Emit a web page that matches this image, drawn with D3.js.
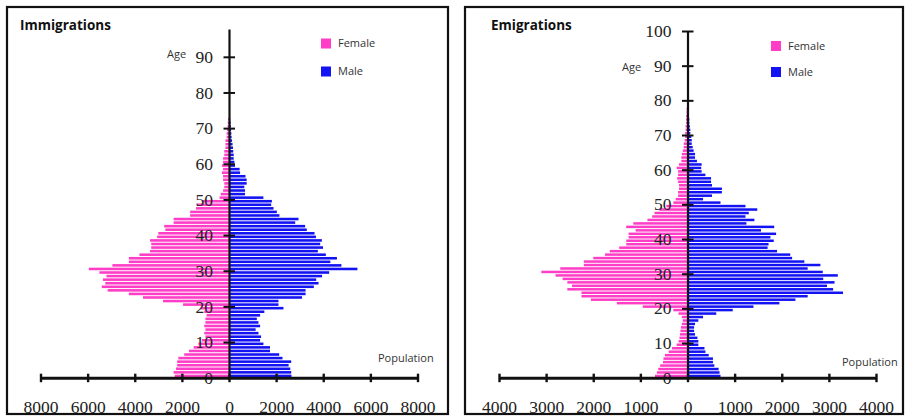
<!DOCTYPE html>
<html>
<head>
<meta charset="utf-8">
<script src="https://cdn.jsdelivr.net/npm/d3@7"></script>
<style>
  html, body { margin: 0; padding: 0; background: #fff; }
  svg { display: block; }
</style>
</head>
<body>
<svg id="chart" width="905" height="416"></svg>
<script>
// Single-year age groups, index = age in years.
const immigrationFemale = [
  2300, 2350, 2250, 2200, 2200, 2150, 1900, 1700, 1500, 1300,
  1150, 1000, 1050, 1000, 1050, 1000, 1000, 950, 1050, 1200,
  1950, 2800, 3650, 4250, 5150, 5400, 5250, 5350, 5200, 5500,
  5950, 4950, 4250, 4250, 3800, 3350, 3300, 3300, 3350, 3050,
  3000, 2700, 2750, 2350, 2350, 1650, 1650, 1400, 1350, 1100,
  400, 350, 250, 200, 200, 250, 250, 300, 250, 300,
  250, 250, 200, 200, 150, 150, 150, 100, 100, 80,
  60, 50, 40
];
const immigrationMale = [
  2650, 2640, 2600, 2530, 2640, 2270, 2130, 1740, 1740, 1460,
  1320, 1360, 1250, 1130, 1320, 1250, 1180, 1320, 1500, 2310,
  2100, 2100, 3100, 3250, 3250, 3600, 3800, 3700, 3950, 4250,
  5450, 4770, 4300, 4580, 4110, 3770, 3990, 3870, 3940, 3690,
  3630, 3300, 3230, 2810, 2950, 2140, 2030, 1890, 1790, 1820,
  1460, 680, 680, 650, 750, 750, 700, 470, 450, 255,
  230, 200, 200, 180, 170, 150, 130, 110, 100, 90,
  80, 70, 50
];
const emigrationFemale = [
  690, 650, 620, 580, 520, 510, 480, 400, 330, 230,
  190, 170, 160, 150, 140, 120, 100, 120, 190, 300,
  950, 1500, 2050, 2250, 2250, 2550, 2450, 2550, 2650, 2800,
  3100, 2700, 2200, 2200, 2000, 1750, 1650, 1450, 1300, 1300,
  1250, 1250, 1100, 1300, 1150, 850, 750, 700, 600, 450,
  300, 250, 200, 200, 180, 180, 200, 220, 200, 200,
  230, 180, 130, 130, 120, 100, 80, 80, 60, 50,
  50, 40, 40, 30, 30, 30, 20, 20
];
const emigrationMale = [
  700, 680, 660, 570, 540, 540, 450, 380, 360, 230,
  230, 210, 160, 140, 140, 160, 230, 330, 610, 960,
  1400, 1950, 2290, 2550, 3300, 3090, 2960, 3120, 2880, 3190,
  2870, 2550, 2820, 2480, 2220, 2180, 1900, 1700, 1720, 1830,
  1760, 1880, 1560, 1840, 1250, 1420, 1230, 1300, 1480, 1230,
  700, 330, 520, 730, 730, 520, 500, 500, 380, 300,
  290, 300, 200, 160, 160, 130, 110, 90, 90, 80,
  60, 60, 50, 40, 40, 30, 30, 30
];

const immigrationPopTicks = [-8000, -6000, -4000, -2000, 0, 2000, 4000, 6000, 8000];
const immigrationAgeTicks = [0, 10, 20, 30, 40, 50, 60, 70, 80, 90];
const emigrationPopTicks = [-4000, -3000, -2000, -1000, 0, 1000, 2000, 3000, 4000];
const emigrationAgeTicks = [0, 10, 20, 30, 40, 50, 60, 70, 80, 90, 100];

const seriesNames = ["Female", "Male"];
const titles = ["Immigrations", "Emigrations"];

const COLOR_F = "#ff3dc6";
const COLOR_M = "#1212f2";
const TICK_FONT = "'Liberation Serif', 'Times New Roman', serif";
const TEXT_FONT = "'Open Sans', 'Noto Sans', sans-serif";

const svg = d3.select("#chart");

const panels = [
  {
    title: titles[0], female: immigrationFemale, male: immigrationMale,
    popTicks: immigrationPopTicks, ageTicks: immigrationAgeTicks,
    frame: { x: 7, y: 7, w: 441, h: 407 },
    xRange: [40.5, 417.5], popMax: 8000,
    yTop: 97.8, yRange: [377.7, 29],
    titlePos: [20, 29.5], agePos: [167, 58],
    legend: { x: 321, yF: 38.5, yM: 66.5, tx: 338 },
    popLabel: [378, 362]
  },
  {
    title: titles[1], female: emigrationFemale, male: emigrationMale,
    popTicks: emigrationPopTicks, ageTicks: emigrationAgeTicks,
    frame: { x: 465, y: 7, w: 438, h: 407 },
    xRange: [499, 876], popMax: 4000,
    yTop: 100, yRange: [377.7, 31],
    titlePos: [491, 29.5], agePos: [622, 70.5],
    legend: { x: 771, yF: 41, yM: 67, tx: 788 },
    popLabel: [842, 365.5]
  }
];

panels.forEach(p => {
  const g = svg.append("g");

  // panel frame
  g.append("rect")
    .attr("x", p.frame.x).attr("y", p.frame.y)
    .attr("width", p.frame.w).attr("height", p.frame.h)
    .attr("fill", "#fff").attr("stroke", "#111").attr("stroke-width", 2.2);

  const x = d3.scaleLinear().domain([-p.popMax, p.popMax]).range(p.xRange);
  const y = d3.scaleLinear().domain([0, p.yTop]).range(p.yRange);
  const x0 = x(0);
  const step = y(0) - y(1);
  const barH = step * 0.72;

  // female bars (left)
  g.append("g").selectAll("rect").data(p.female).join("rect")
    .attr("x", d => x(-d))
    .attr("y", (d, i) => y(i + 1) + (step - barH) / 2)
    .attr("width", d => x0 - x(-d))
    .attr("height", barH)
    .attr("fill", COLOR_F);

  // male bars (right)
  g.append("g").selectAll("rect").data(p.male).join("rect")
    .attr("x", x0)
    .attr("y", (d, i) => y(i + 1) + (step - barH) / 2)
    .attr("width", d => x(d) - x0)
    .attr("height", barH)
    .attr("fill", COLOR_M);

  // age axis: labels on top of the bars, line with crossing ticks
  const yAxis = d3.axisLeft(y).tickValues(p.ageTicks).tickSize(0).tickPadding(16).tickFormat(d3.format("d"));
  const yAxisG = g.append("g").attr("transform", `translate(${x0},0)`).call(yAxis);
  yAxisG.select(".domain").remove();
  yAxisG.selectAll("text")
    .attr("font-family", TICK_FONT).attr("font-size", 17.5).attr("fill", "#222");

  const yLineG = g.append("g").attr("transform", `translate(${x0},0)`)
    .call(d3.axisLeft(y).tickValues(p.ageTicks.filter(v => v > 0)).tickSizeOuter(0).tickFormat(""));
  yLineG.select(".domain").attr("stroke", "#111").attr("stroke-width", 2.2);
  yLineG.selectAll(".tick line").attr("x1", -5.5).attr("x2", 6).attr("stroke", "#111").attr("stroke-width", 2);

  // population axis
  const xAxis = d3.axisBottom(x).tickValues(p.popTicks).tickSizeOuter(0)
    .tickFormat(d => String(Math.abs(d))).tickPadding(17);
  const xAxisG = g.append("g").attr("transform", `translate(0,${y(0)})`).call(xAxis);
  xAxisG.select(".domain").attr("stroke", "#111").attr("stroke-width", 3);
  xAxisG.selectAll(".tick line").attr("y1", -4).attr("y2", 4.5).attr("stroke", "#111").attr("stroke-width", 2.4);
  xAxisG.selectAll("text")
    .attr("font-family", TICK_FONT).attr("font-size", 17.5).attr("fill", "#222");

  // titles and axis captions
  g.append("text").attr("x", p.titlePos[0]).attr("y", p.titlePos[1])
    .attr("font-family", TEXT_FONT).attr("font-weight", 700).attr("font-size", 13.5)
    .attr("fill", "#111").text(p.title);
  g.append("text").attr("x", p.agePos[0]).attr("y", p.agePos[1])
    .attr("font-family", TEXT_FONT).attr("font-size", 11).attr("fill", "#333").text("Age");
  g.append("text").attr("x", p.popLabel[0]).attr("y", p.popLabel[1])
    .attr("font-family", TEXT_FONT).attr("font-size", 11).attr("fill", "#333").text("Population");

  // legend
  const legend = g.append("g");
  [[seriesNames[0], COLOR_F, p.legend.yF], [seriesNames[1], COLOR_M, p.legend.yM]].forEach(([name, color, ly]) => {
    legend.append("rect").attr("x", p.legend.x).attr("y", ly).attr("width", 10).attr("height", 10).attr("fill", color);
    legend.append("text").attr("x", p.legend.tx).attr("y", ly + 8.5)
      .attr("font-family", TEXT_FONT).attr("font-size", 11).attr("fill", "#333").text(name);
  });
});
</script>
</body>
</html>
